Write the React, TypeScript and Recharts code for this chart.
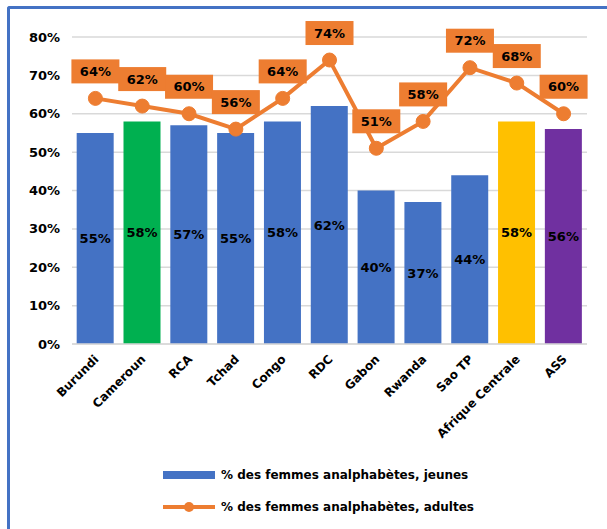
import React from 'react';
import { ComposedChart, Bar, Line, XAxis, YAxis, CartesianGrid, LabelList, Legend, Cell } from 'recharts';

const categories = ['Burundi', 'Cameroun', 'RCA', 'Tchad', 'Congo', 'RDC', 'Gabon', 'Rwanda', 'Sao TP', 'Afrique Centrale', 'ASS'];
const youngValues = [55, 58, 57, 55, 58, 62, 40, 37, 44, 58, 56];
const adultValues = [64, 62, 60, 56, 64, 74, 51, 58, 72, 68, 60];
const barColors = ['#4472C4', '#00B050', '#4472C4', '#4472C4', '#4472C4', '#4472C4', '#4472C4', '#4472C4', '#4472C4', '#FFC000', '#7030A0'];
const yTicks = [0, 10, 20, 30, 40, 50, 60, 70, 80];
const seriesNames = ['% des femmes analphabètes, jeunes', '% des femmes analphabètes, adultes'];

const data = categories.map((c, i) => ({ name: c, young: youngValues[i], adult: adultValues[i] }));

const FONT = '"DejaVu Sans", Verdana, sans-serif';
const ORANGE = '#ED7D31';
const BLUE = '#4472C4';

const XTick = (props: any) => {
  const { x, y, payload } = props;
  return (
    <g transform={`translate(${x + 4},${y + 8})`}>
      <text x={0} y={0} textAnchor="end" transform="rotate(-45)" fontFamily={FONT} fontWeight="bold" fontSize={12} fill="#000">
        {payload.value}
      </text>
    </g>
  );
};

const LineLabel = (props: any) => {
  const { x, y, value } = props;
  return (
    <g>
      <rect x={x - 24} y={y - 39} width={48} height={24} fill={ORANGE} />
      <text x={x} y={y - 27} textAnchor="middle" dominantBaseline="central" fontFamily={FONT} fontWeight="bold" fontSize={13} fill="#000">
        {`${value}%`}
      </text>
    </g>
  );
};

const LegendContent = () => (
  <svg width={360} height={60}>
    <rect x={0} y={4} width={52} height={8} fill={BLUE} />
    <text x={58} y={8} dominantBaseline="central" fontFamily={FONT} fontWeight="bold" fontSize={12} fill="#000">{seriesNames[0]}</text>
    <line x1={0} x2={52} y1={40} y2={40} stroke={ORANGE} strokeWidth={4} />
    <circle cx={26} cy={40} r={5} fill={ORANGE} />
    <text x={58} y={40} dominantBaseline="central" fontFamily={FONT} fontWeight="bold" fontSize={12} fill="#000">{seriesNames[1]}</text>
  </svg>
);

export default function App() {
  return (
    <div style={{ position: 'absolute', left: 0, top: 0, width: 607, height: 529, overflow: 'hidden', background: '#fff' }}>
      <div style={{ position: 'absolute', left: 7, top: 6, width: 700, height: 600, borderLeft: `3px solid ${BLUE}`, borderTop: `3px solid ${BLUE}`, borderTopLeftRadius: 3 }} />
      <div style={{ position: 'absolute', left: 0, top: 0 }}>
        <ComposedChart width={607} height={529} data={data} margin={{ top: 37, right: 20, bottom: 8, left: 0 }} barCategoryGap="10%">
          <CartesianGrid vertical={false} stroke="#D9D9D9" strokeWidth={1.5} />
          <XAxis dataKey="name" interval={0} tick={<XTick />} tickLine={false} axisLine={{ stroke: '#D9D9D9', strokeWidth: 1.5 }} height={115} />
          <YAxis domain={[0, 80]} ticks={yTicks} tickFormatter={(v: number) => `${v}%`} axisLine={false} tickLine={false} width={72} tickMargin={6}
            tick={{ fontFamily: FONT, fontWeight: 'bold', fontSize: 13, fill: '#000' }} />
          <Legend verticalAlign="bottom" content={<LegendContent />} wrapperStyle={{ left: 163, bottom: 0, width: 360, height: 62 }} />
          <Bar dataKey="young" isAnimationActive={false}>
            {data.map((d, i) => <Cell key={d.name} fill={barColors[i]} />)}
            <LabelList dataKey="young" position="center" formatter={(v: any) => `${v}%`} style={{ fontFamily: FONT, fontWeight: 'bold', fontSize: 13, fill: '#000' }} />
          </Bar>
          <Line dataKey="adult" stroke={ORANGE} strokeWidth={4} dot={{ r: 7, fill: ORANGE, stroke: ORANGE, strokeWidth: 1 }} isAnimationActive={false}>
            <LabelList dataKey="adult" content={<LineLabel />} />
          </Line>
        </ComposedChart>
      </div>
    </div>
  );
}
